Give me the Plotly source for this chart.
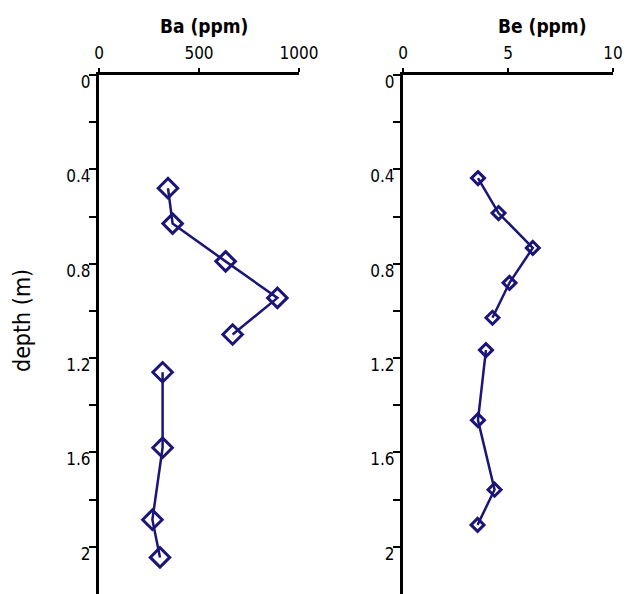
import plotly.graph_objects as go

# Ba profile (two connected segments)
ba_depth_1 = [0.48, 0.63, 0.79, 0.945, 1.10]
ba_val_1 = [345, 368, 633, 892, 668]
ba_depth_2 = [1.26, 1.58, 1.885, 2.045]
ba_val_2 = [318, 318, 267, 305]

# Be profile (two connected segments)
be_depth_1 = [0.437, 0.585, 0.733, 0.881, 1.029]
be_val_1 = [3.57, 4.55, 6.18, 5.07, 4.26]
be_depth_2 = [1.166, 1.463, 1.758, 1.907]
be_val_2 = [3.95, 3.57, 4.36, 3.55]

depth_major = [0, 0.4, 0.8, 1.2, 1.6, 2.0]
depth_labels = ["0", "0.4", "0.8", "1.2", "1.6", "2"]
depth_minor = [0.2, 0.6, 1.0, 1.4, 1.8]

ba_ticks = [0, 500, 1000]
be_ticks = [0, 5, 10]

NAVY = "#1b1577"
FONT = "DejaVu Sans Condensed, Liberation Sans Narrow, Arial Narrow, sans-serif"

W, H = 626, 594
TOP = 75
plot_h = H - TOP

fig = go.Figure()
for d, v in [(ba_depth_1, ba_val_1), (ba_depth_2, ba_val_2)]:
    fig.add_trace(go.Scatter(x=v, y=d, xaxis="x", yaxis="y", mode="lines+markers",
                             line=dict(color=NAVY, width=2.5),
                             marker=dict(symbol="diamond-open", size=15, color=NAVY,
                                         line=dict(width=3, color=NAVY)),
                             cliponaxis=False, showlegend=False))
for d, v in [(be_depth_1, be_val_1), (be_depth_2, be_val_2)]:
    fig.add_trace(go.Scatter(x=v, y=d, xaxis="x2", yaxis="y2", mode="lines+markers",
                             line=dict(color=NAVY, width=2.5),
                             marker=dict(symbol="diamond-open", size=10, color=NAVY,
                                         line=dict(width=3, color=NAVY)),
                             cliponaxis=False, showlegend=False))

tickfont = dict(family=FONT, size=17, color="black")
xcommon = dict(side="top", showgrid=False, zeroline=False, showline=True, automargin=False,
               linecolor="black", linewidth=3, ticks="outside", ticklen=4,
               tickwidth=2, tickcolor="black", tickfont=tickfont, ticklabelstandoff=2)
ycommon = dict(range=[2.2, 0], showgrid=False, zeroline=False, showline=True, automargin=False,
               linecolor="black", linewidth=3, ticks="outside", ticklen=7, tickwidth=2,
               tickcolor="black", tickvals=depth_major, ticktext=depth_labels,
               tickfont=tickfont, ticklabelshift=-7, ticklabelstandoff=-5,
               minor=dict(tickvals=depth_minor, ticks="outside", ticklen=7, tickwidth=2,
                          tickcolor="black"))


def ypaper(ypix):
    return 1 - (ypix - TOP) / plot_h


fig.update_layout(
    width=W, height=H,
    margin=dict(l=0, r=0, t=TOP, b=0, autoexpand=False),
    paper_bgcolor="white", plot_bgcolor="white",
    xaxis=dict(domain=[99 / W, 299 / W], range=[0, 1000], tickvals=ba_ticks, anchor="y", **xcommon),
    yaxis=dict(domain=[0, 1], anchor="x", **ycommon),
    xaxis2=dict(domain=[403 / W, 613 / W], range=[0, 10], tickvals=be_ticks, anchor="y2", **xcommon),
    yaxis2=dict(domain=[0, 1], anchor="x2", **ycommon),
    annotations=[
        dict(text="<b>Ba (ppm)</b>", x=204 / W, y=ypaper(26), xref="paper", yref="paper",
             yanchor="middle", xanchor="center", showarrow=False,
             font=dict(family=FONT, size=19, color="black")),
        dict(text="<b>Be (ppm)</b>", x=542 / W, y=ypaper(26), xref="paper", yref="paper",
             yanchor="middle", xanchor="center", showarrow=False,
             font=dict(family=FONT, size=19, color="black")),
        dict(text="depth (m)", x=22 / W, y=ypaper(321), xref="paper", yref="paper",
             textangle=-90, xanchor="center", yanchor="middle", showarrow=False,
             font=dict(family=FONT, size=23, color="black")),
    ],
)

fig.write_html("out.html", config={"displayModeBar": False},
               post_script="document.body.style.margin='0';")
